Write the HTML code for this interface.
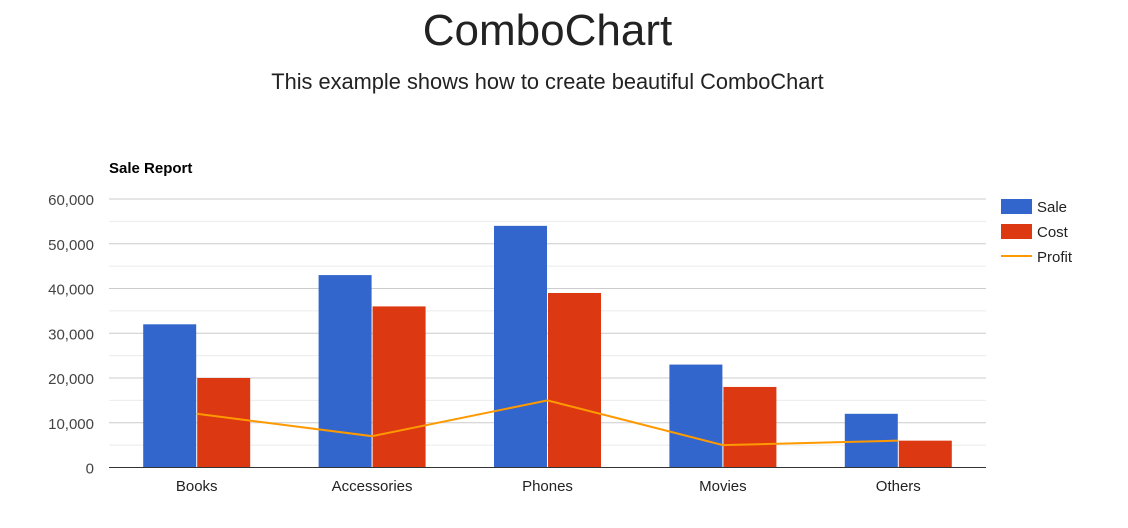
<!DOCTYPE html>
<html><head><meta charset="utf-8"><style>
body{margin:0;background:#fff;font-family:"Liberation Sans",sans-serif;}
#wrap{position:relative;width:1128px;height:528px;overflow:hidden;}
h1{position:absolute;top:6px;left:0;width:1095px;text-align:center;margin:0;font-weight:normal;font-size:44px;color:#222;}
h2{position:absolute;top:69px;left:0;width:1095px;text-align:center;margin:0;font-weight:normal;font-size:21.8px;color:#222;}
svg{position:absolute;left:0;top:0;}
</style></head><body>
<div id="wrap">
<h1>ComboChart</h1>
<h2>This example shows how to create beautiful ComboChart</h2>
<svg id="c" width="1128" height="528"></svg>
</div>
<script>
const categories=["Books","Accessories","Phones","Movies","Others"];
const sale=[32000,43000,54000,23000,12000];
const cost=[20000,36000,39000,18000,6000];
const profit=[12000,7000,15000,5000,6000];
const yTicks=[0,10000,20000,30000,40000,50000,60000];
const seriesNames=["Sale","Cost","Profit"];
const NS="http://www.w3.org/2000/svg";
const svg=document.getElementById('c');
const L=109,R=986,T=199,B=467.5,yMax=60000;
const y=v=>B-(v/yMax)*(B-T);
const band=(R-L)/categories.length;
const xc=i=>L+band*(i+0.5);
function mk(tag,attrs,parent){const e=document.createElementNS(NS,tag);for(const k in attrs)e.setAttribute(k,attrs[k]);(parent||svg).appendChild(e);return e;}
let t=mk('text',{x:109,y:173,'font-size':15,'font-weight':'bold',fill:'#000'});t.textContent="Sale Report";


for(let v=0;v<=yMax;v+=5000){
  const g=mk('line',{x1:L,x2:R,y1:y(v),y2:y(v),stroke:v%10000?'#ebebeb':'#ccc','stroke-width':1});
  
  
}
yTicks.forEach(v=>{
  const e=mk('text',{x:94,y:y(v)+6,'text-anchor':'end','font-size':15,fill:'#444'});
  e.textContent=v.toLocaleString('en-US');
  
  
});
const bw=53;
categories.forEach((c,i)=>{
  const b1=mk('rect',{x:xc(i)-bw-0.5,y:y(sale[i]),width:bw,height:B-y(sale[i]),fill:'#3366cc'});
  
  
  const b2=mk('rect',{x:xc(i)+0.5,y:y(cost[i]),width:bw,height:B-y(cost[i]),fill:'#dc3912'});
  
  
  const lb=mk('text',{x:xc(i),y:491,'text-anchor':'middle','font-size':15,fill:'#222'});
  lb.textContent=c;
  
  
});
const ax=mk('line',{x1:L,x2:R,y1:B,y2:B,stroke:'#333','stroke-width':1});


const pl=mk('polyline',{points:profit.map((v,i)=>xc(i)+','+y(v)).join(' '),fill:'none',stroke:'#ff9900','stroke-width':2});


const colors=['#3366cc','#dc3912','#ff9900'];
seriesNames.forEach((n,i)=>{
  const yy=206+i*25;
  let s;
  if(i<2)s=mk('rect',{x:1001,y:yy-7,width:31,height:15,fill:colors[i]});
  else s=mk('line',{x1:1001,x2:1032,y1:yy,y2:yy,stroke:colors[i],'stroke-width':2});
  
  
  const e=mk('text',{x:1037,y:yy+6,'font-size':15,fill:'#222'});
  e.textContent=n;
  
  
});
</script>
</body></html>
